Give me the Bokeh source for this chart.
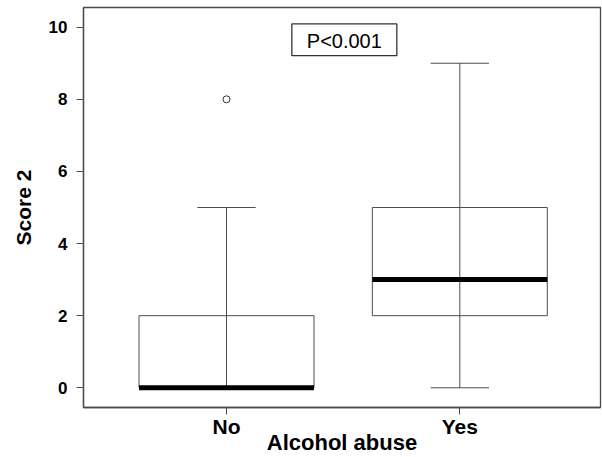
from bokeh.plotting import figure
from bokeh.models import Range1d, FixedTicker
from bokeh.embed import file_html
from bokeh.resources import INLINE

# ---- data ----
categories = ["No", "Yes"]
lower = [0, 0]
q1 = [0, 2]
median = [0, 3]
q3 = [2, 5]
upper = [5, 9]
outlier_cat = ["No"]
outlier_val = [8]
y_ticks = [0, 2, 4, 6, 8, 10]
p_text = "P<0.001"

xpos = [i + 1 for i in range(len(categories))]
out_x = [categories.index(c) + 1 for c in outlier_cat]

BOX_W = 0.75
CAP_W = 0.25
FONT = "Liberation Sans"
FRAME_C = "#4a4a4a"
LINE_C = "#4d4d4d"

p = figure(width=602, height=457, output_backend="svg", toolbar_location=None,
           x_range=Range1d(0.387, 2.603), y_range=Range1d(-0.546, 10.546),
           min_border_left=83, min_border_right=2, min_border_top=7, min_border_bottom=50)
p.xgrid.visible = False
p.ygrid.visible = False
p.outline_line_color = FRAME_C
p.outline_line_width = 1.3
p.background_fill_color = "white"
p.border_fill_color = "white"

# boxes
p.vbar(x=xpos, width=BOX_W, bottom=q1, top=q3, fill_color="white",
       line_color=LINE_C, line_width=1)
# whiskers (through box, SPSS style)
p.segment(x0=xpos, y0=lower, x1=xpos, y1=upper, line_color=LINE_C, line_width=1)
# caps
p.segment(x0=[x - CAP_W / 2 for x in xpos], y0=upper,
          x1=[x + CAP_W / 2 for x in xpos], y1=upper, line_color=LINE_C, line_width=1)
p.segment(x0=[x - CAP_W / 2 for x in xpos], y0=lower,
          x1=[x + CAP_W / 2 for x in xpos], y1=lower, line_color=LINE_C, line_width=1)
# medians
p.segment(x0=[x - BOX_W / 2 for x in xpos], y0=median,
          x1=[x + BOX_W / 2 for x in xpos], y1=median, line_color="black",
          line_width=5, line_cap="butt")
# outliers
p.scatter(x=out_x, y=outlier_val, marker="circle", size=7, fill_color="white",
          line_color="#333333", line_width=1)

# p-value box
p.rect(x=[1.505], y=[9.65], width=0.45, height=0.88, fill_color="white",
       line_color="#333333", line_width=1.3)
p.text(x=[1.505], y=[9.63], text=[p_text], text_font_size="20px",
       text_align="center", text_baseline="middle", text_color="black",
       text_font={"value": FONT})

# axes
p.xaxis.ticker = FixedTicker(ticks=xpos)
p.xaxis.major_label_overrides = {x: c for x, c in zip(xpos, categories)}
p.yaxis.ticker = FixedTicker(ticks=y_ticks)
for ax in (p.xaxis[0], p.yaxis[0]):
    ax.axis_line_color = FRAME_C
    ax.axis_line_width = 1.3
    ax.major_tick_line_color = FRAME_C
    ax.major_tick_in = 0
    ax.major_tick_out = 7
    ax.minor_tick_line_color = None
    ax.major_label_text_font = FONT
    ax.major_label_text_font_style = "bold"
    ax.major_label_text_color = "black"
    ax.axis_label_text_font = FONT
    ax.axis_label_text_font_style = "bold"
    ax.axis_label_text_color = "black"

p.xaxis.axis_label = "Alcohol abuse"
p.xaxis.major_label_text_font_size = "21px"
p.xaxis.axis_label_text_font_size = "22px"
p.xaxis.major_label_standoff = 0
p.xaxis.axis_label_standoff = -11

p.yaxis.axis_label = "Score 2"
p.yaxis.major_label_text_font_size = "17px"
p.yaxis.axis_label_text_font_size = "21px"
p.yaxis.major_label_standoff = 9
p.yaxis.axis_label_standoff = 11

open("out.html", "w").write(file_html(p, INLINE))
